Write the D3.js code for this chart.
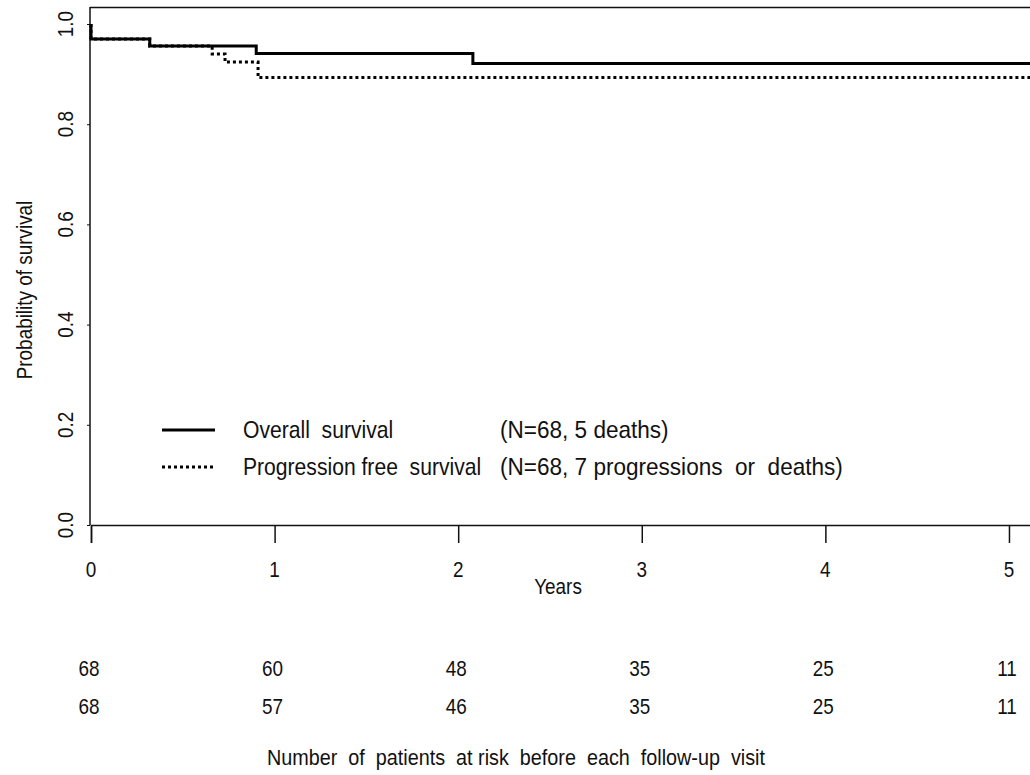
<!DOCTYPE html>
<html>
<head>
<meta charset="utf-8">
<script src="https://d3js.org/d3.v7.min.js"></script>
<style>
body {
  margin: 0;
  background: #fff;
  overflow: hidden;
}
svg text {
  font-family: "Liberation Sans", Arial, sans-serif;
  font-size: 22px;
  fill: #111;
  white-space: pre;
}
</style>
</head>
<body>
<svg id="vis" width="1030" height="775"></svg>
<script>
// Kaplan-Meier step values
var osTime = [0, 0, 0.32, 0.90, 2.08];
var osSurv = [1.0, 0.970, 0.956, 0.941, 0.921];
var pfsTime = [0, 0, 0.32, 0.66, 0.73, 0.91];
var pfsSurv = [1.0, 0.970, 0.956, 0.940, 0.924, 0.893];
var maxTime = 5.12;

var xTicks = [0, 1, 2, 3, 4, 5];
var yTicks = [0, 0.2, 0.4, 0.6, 0.8, 1.0];

// numbers at risk under each year
var atRiskOS = [68, 60, 48, 35, 25, 11];
var atRiskPFS = [68, 57, 46, 35, 25, 11];

var legendNames = ["Overall  survival", "Progression free  survival"];
var legendNotes = ["(N=68, 5 deaths)", "(N=68, 7 progressions  or  deaths)"];

var svg = d3.select("#vis");

var x = d3.scaleLinear().domain([0, maxTime]).range([91, 1031]);
var y = d3.scaleLinear().domain([0, 1]).range([525, 24]);

// narrow looking text: squeeze glyphs horizontally
function label(parent, tx, ty, str, anchor, rot, size, squeeze) {
  var g = parent.append("g")
    .attr("transform", "translate(" + tx + "," + ty + ")" + (rot ? " rotate(" + rot + ")" : "") + " scale(" + (squeeze || 0.86) + ",1)");
  return g.append("text")
    .attr("text-anchor", anchor || "start")
    .style("font-size", (size || 22) + "px")
    .text(str);
}

function toSteps(times, surv) {
  var pts = times.map(function(t, i) { return [t, surv[i]]; });
  pts.push([maxTime, surv[surv.length - 1]]);
  return pts;
}

// frame: top line
svg.append("line")
  .attr("x1", 90).attr("x2", 1030)
  .attr("y1", 7.5).attr("y2", 7.5)
  .attr("stroke", "#111").attr("stroke-width", 1.5);

// x axis
var xAxis = svg.append("g")
  .attr("transform", "translate(0,525)")
  .call(d3.axisBottom(x).tickValues(xTicks).tickSize(18).tickFormat(""));
xAxis.select(".domain").attr("stroke", "#111").attr("stroke-width", 1.5);
xAxis.selectAll(".tick line").attr("stroke", "#111").attr("stroke-width", 1.5);
xTicks.forEach(function(t) {
  label(svg, x(t), 577, d3.format("d")(t), "middle");
});

// y axis
var yAxis = svg.append("g")
  .attr("transform", "translate(90,0)")
  .call(d3.axisLeft(y).tickValues(yTicks).tickSize(3).tickFormat(""));
yAxis.select(".domain").attr("d", "M0,7V525").attr("stroke", "#111").attr("stroke-width", 1.5);
yAxis.selectAll(".tick line").attr("stroke", "#111");
yTicks.forEach(function(v) {
  label(svg, 73, y(v), d3.format(".1f")(v), "middle", -90);
});

label(svg, 32, 290, "Probability of survival", "middle", -90);
label(svg, 558, 594, "Years", "middle");

// curves
var line = d3.line()
  .x(function(d) { return x(d[0]); })
  .y(function(d) { return y(d[1]); })
  .curve(d3.curveStepAfter);

svg.append("path")
  .datum(toSteps(osTime, osSurv))
  .attr("d", line)
  .attr("fill", "none")
  .attr("stroke", "#000")
  .attr("stroke-width", 3);

svg.append("path")
  .datum(toSteps(pfsTime, pfsSurv))
  .attr("d", line)
  .attr("fill", "none")
  .attr("stroke", "#000")
  .attr("stroke-width", 3)
  .attr("stroke-dasharray", "3,3");

// legend
var legend = svg.append("g");
legendNames.forEach(function(name, i) {
  var ly = 430 + i * 37;
  legend.append("line")
    .attr("x1", 162).attr("x2", 215)
    .attr("y1", ly).attr("y2", ly)
    .attr("stroke", "#000").attr("stroke-width", 3)
    .attr("stroke-dasharray", i === 0 ? null : "3,3");
  label(legend, 243, ly + 8, name, "start", 0, 24, 0.88);
  label(legend, 500, ly + 8, legendNotes[i], "start", 0, 24, 0.94);
});

// number at risk table
[atRiskOS, atRiskPFS].forEach(function(row, r) {
  var g = svg.append("g");
  row.forEach(function(d, i) {
    label(g, x(xTicks[i]) - 2, 676 + r * 38, String(d), "middle");
  });
});

label(svg, 516, 765, "Number  of  patients  at risk  before  each  follow-up  visit", "middle", 0, 22, 0.9);
</script>
</body>
</html>
